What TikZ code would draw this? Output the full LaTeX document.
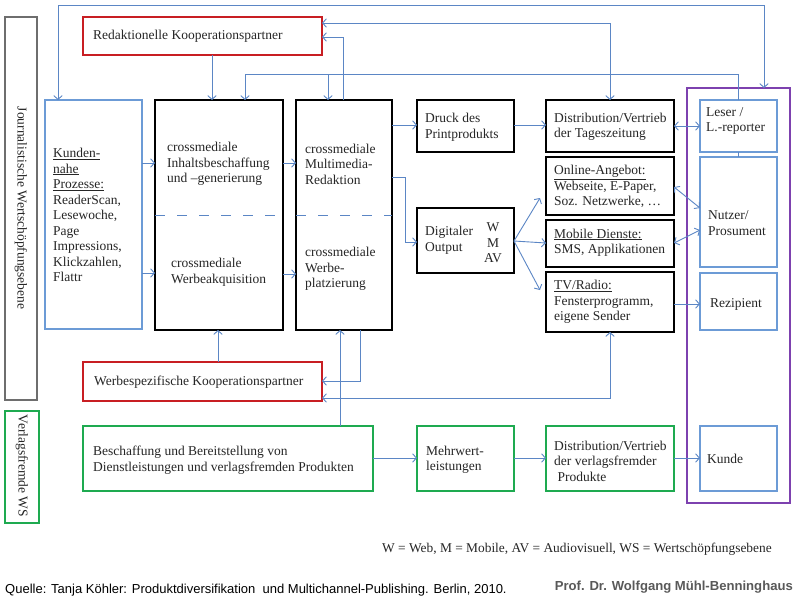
\documentclass[tikz,border=0pt]{standalone}
\usepackage{fontspec}
\setmainfont{Liberation Serif}
\newfontfamily\arialf{Liberation Sans}
\usetikzlibrary{arrows.meta,calc}
\definecolor{cline}{RGB}{91,134,197}
\definecolor{cbluebox}{RGB}{108,155,214}
\definecolor{cred}{RGB}{200,30,35}
\definecolor{cgreen}{RGB}{30,170,80}
\definecolor{cpurple}{RGB}{125,65,175}
\definecolor{cgray}{RGB}{110,110,110}
\definecolor{tcol}{RGB}{38,38,38}
\definecolor{profcol}{RGB}{89,89,89}
\newcommand\bx[6]{\node[#1, minimum width={(#5-#3)*1pt}, minimum height={(#6-#4)*1pt}] (#2) at ({(#3+#5)/2},{(#4+#6)/2}) {};}
\begin{document}
\begin{tikzpicture}[x=1pt,y=-1pt,
  base/.style={draw, inner sep=0, outer sep=0, rectangle},
  blackbox/.style={base, draw=black, line width=2.6pt},
  redbox/.style={base, draw=cred, line width=2.2pt},
  bluebox/.style={base, draw=cbluebox, line width=2.2pt},
  greenbox/.style={base, draw=cgreen, line width=2.2pt},
  purplebox/.style={base, draw=cpurple, line width=1.8pt},
  graybox/.style={base, draw=cgray, line width=1.3pt},
  grnlbl/.style={base, draw=cgreen, line width=1.3pt},
  conn/.style={draw=cline, line width=0.9pt},
  >={Straight Barb[length=3.8pt,width=8.5pt,line width=0.9pt]},
  txt/.style={align=left, anchor=west, inner sep=0, font=\fontsize{13.5}{15.5}\selectfont, text=tcol},
  dsh/.style={draw=cline, line width=0.9pt, dash pattern=on 10pt off 12pt}
]
\useasboundingbox (0,0) rectangle (800,600);
\fill[white] (0,0) rectangle (800,600);

% left labels
\bx{graybox}{jwbox}{5}{17}{37}{400}
\bx{grnlbl}{vfbox}{5}{411}{39}{523}
\node[txt, anchor=center, rotate=-90] (jwt) at (21,208) {Journalistische Wertschöpfungsebene};
\node[txt, anchor=center, rotate=-90] (vft) at (22,466) {Verlagsfremde WS};

% boxes
\bx{redbox}{redtop}{83}{17}{322}{55}
\bx{bluebox}{kunden}{45}{100}{142}{329}
\bx{blackbox}{inhalt}{155}{100}{283}{330}
\bx{blackbox}{redak}{296}{100}{392}{330}
\bx{blackbox}{druck}{417}{100}{514}{152}
\bx{blackbox}{digital}{417}{208}{514}{273}
\bx{blackbox}{disttz}{546}{100}{674}{152}
\bx{blackbox}{online}{546}{157}{674}{215}
\bx{blackbox}{mobile}{546}{220}{674}{267}
\bx{blackbox}{tv}{546}{272}{674}{332}
\bx{purplebox}{purple}{687}{88}{790}{503}
\bx{bluebox}{leser}{700}{100}{777}{152}
\bx{bluebox}{nutzer}{700}{157}{777}{267}
\bx{bluebox}{rezip}{700}{273}{777}{330}
\bx{bluebox}{kunde}{700}{426}{777}{491}
\bx{redbox}{werbesp}{83}{362}{322}{401}
\bx{greenbox}{beschaff}{83}{426}{373}{491}
\bx{greenbox}{mehrwert}{417}{426}{514}{491}
\bx{greenbox}{distvf}{546}{426}{674}{491}

% dashed separators
\draw[dsh] (inhalt.west |- 0,215) -- (inhalt.east |- 0,215);
\draw[dsh] (redak.west |- 0,215) -- (redak.east |- 0,215);

% texts
\node[txt] (redtopt) at (93,36) {Redaktionelle Kooperationspartner};
\node[txt] (kundent) at (53,215) {\underline{Kunden-}\\\underline{nahe}\\\underline{Prozesse:}\\ReaderScan,\\Lesewoche,\\Page\\Impressions,\\Klickzahlen,\\Flattr};
\node[txt] (inhaltt) at (167,164) {crossmediale\\Inhaltsbeschaffung\\und –generierung};
\node[txt] (werbakt) at (171,272) {crossmediale\\Werbeakquisition};
\node[txt] (redakt) at (305,164) {crossmediale\\Multimedia-\\Redaktion};
\node[txt] (werbplt) at (305,269) {crossmediale\\Werbe-\\platzierung};
\node[txt] (druckt) at (425,127) {Druck des\\Printprodukts};
\node[txt] (digitalt) at (425,240) {Digitaler\\Output};
\node[txt, align=center, anchor=center] (wmav) at (493,243) {W\\M\\AV};
\node[txt] (disttzt) at (554,127) {Distribution/Vertrieb\\der Tageszeitung};
\node[txt] (onlinet) at (554,186.5) {\underline{Online-Angebot:}\\Webseite, E-Paper,\\Soz. Netzwerke, \dots};
\node[txt] (mobilet) at (554,242.5) {\underline{Mobile Dienste:}\\SMS, Applikationen};
\node[txt] (tvt) at (554,302) {\underline{TV/Radio:}\\Fensterprogramm,\\eigene Sender};
\node[txt] (lesert) at (706,121) {Leser /\\L.-reporter};
\node[txt] (nutzert) at (708,223) {Nutzer/\\Prosument};
\node[txt] (rezipt) at (710,304) {Rezipient};
\node[txt] (kundet) at (707,459) {Kunde};
\node[txt] (werbespt) at (94,382) {Werbespezifische Kooperationspartner};
\node[txt] (beschafft) at (93,460) {Beschaffung und Bereitstellung von\\Dienstleistungen und verlagsfremden Produkten};
\node[txt] (mehrwertt) at (426,460) {Mehrwert-\\leistungen};
\node[txt] (distvft) at (554,461) {Distribution/Vertrieb\\der verlagsfremder\\\ Produkte};

\node[txt, font=\fontsize{13.4}{15}\selectfont] (legend) at (382,549) {W = Web, M = Mobile, AV = Audiovisuell, WS = Wertschöpfungsebene};
\node[anchor=west, inner sep=0, font=\arialf\fontsize{13}{15}\selectfont, text=black] (quelle) at (5,590) {Quelle: Tanja Köhler: Produktdiversifikation\ \ und Multichannel-Publishing. Berlin, 2010.};
\node[anchor=east, inner sep=0, font=\arialf\bfseries\fontsize{13.1}{15}\selectfont, text=profcol] (prof) at (793,587) {Prof. Dr. Wolfgang Mühl-Benninghaus};

% connectors
\draw[conn,<->] (58,0 |- kunden.north) -- (58,5) -- (764,5) -- (764,0 |- purple.north);
\draw[conn,<->] (redtop.east |- 0,23) -- (610,23) -- (610,0 |- disttz.north);
\draw[conn,->] (343,0 |- redak.north) -- (343,37) -- (redtop.east |- 0,37);
\draw[conn,->] (738,0 |- leser.north) -- (738,74) -- (245,74) -- (245,0 |- inhalt.north);
\coordinate (br) at (328,74);
\draw[conn,->] (br) -- (br |- redak.north);
\draw[conn,->] (212,0 |- redtop.south) -- (212,0 |- inhalt.north);
\draw[conn,->] (kunden.east |- 0,163) -- (inhalt.west |- 0,163);
\draw[conn,->] (kunden.east |- 0,273) -- (inhalt.west |- 0,273);
\draw[conn,->] (inhalt.east |- 0,163) -- (redak.west |- 0,163);
\draw[conn,->] (inhalt.east |- 0,274) -- (redak.west |- 0,274);
\draw[conn,->] (redak.east |- 0,125) -- (druck.west |- 0,125);
\draw[conn,->] (druck.east |- 0,125) -- (disttz.west |- 0,125);
\draw[conn,->] (redak.east |- 0,177) -- (405,177) -- (405,242) -- (digital.west |- 0,242);
\coordinate (dsrc) at (515,241);
\coordinate (donl) at (540,198);
\coordinate (dtv) at (540,290);
\draw[conn,->] (digital.east |- dsrc) -- (donl);
\draw[conn,->] (digital.east |- dsrc) -- (mobile.west |- 0,243);
\draw[conn,->] (digital.east |- dsrc) -- (dtv);
\draw[conn,<->] (disttz.east |- 0,126) -- (leser.west |- 0,126);
\draw[conn,<->] (online.east |- 0,187) -- (nutzer.west |- 0,208);
\draw[conn,<->] (mobile.east |- 0,243) -- (nutzer.west |- 0,230);
\draw[conn,->] (tv.east |- 0,304) -- (rezip.west |- 0,304);
\draw[conn] (738,0 |- leser.south) -- (738,0 |- nutzer.north);
\draw[conn,->] (218,0 |- werbesp.north) -- (218,0 |- inhalt.south);
\draw[conn,->] (360,0 |- redak.south) -- (360,381) -- (werbesp.east |- 0,381);
\draw[conn,->] (340,0 |- beschaff.north) -- (340,0 |- redak.south);
\draw[conn,<->] (werbesp.east |- 0,398) -- (610,398) -- (610,0 |- tv.south);
\draw[conn,->] (beschaff.east |- 0,458) -- (mehrwert.west |- 0,458);
\draw[conn,->] (mehrwert.east |- 0,458) -- (distvf.west |- 0,458);
\draw[conn,->] (distvf.east |- 0,458) -- (kunde.west |- 0,458);
\end{tikzpicture}
\end{document}
